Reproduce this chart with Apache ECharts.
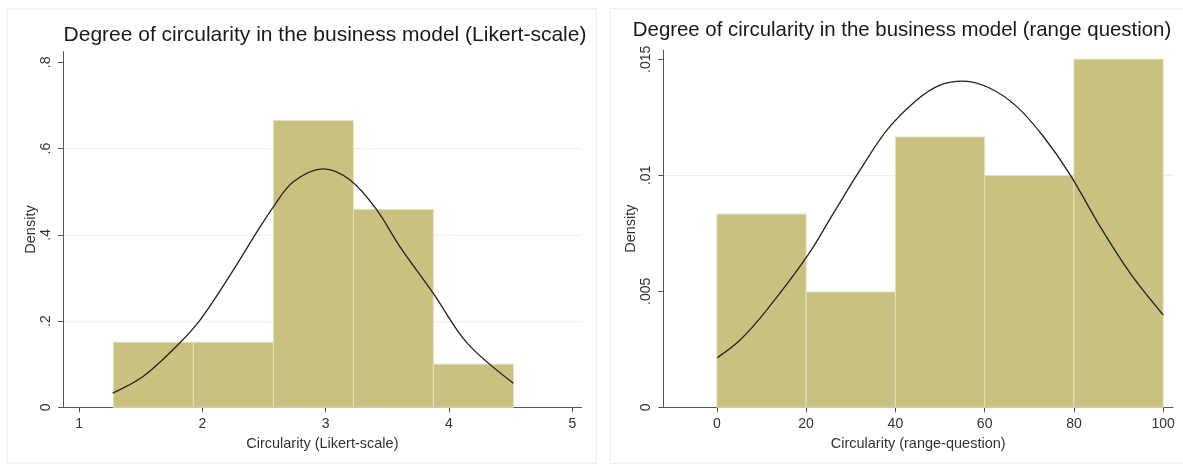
<!DOCTYPE html>
<html>
<head>
<meta charset="utf-8">
<script src="https://cdn.jsdelivr.net/npm/echarts@6/dist/echarts.min.js"></script>
<style>
  html, body { margin: 0; padding: 0; background: #ffffff; }
  #chart { width: 1183px; height: 466px; }
</style>
</head>
<body>
<div id="chart"></div>
<script>
// ---- Left panel: Likert-scale ----
var likertTitle = 'Degree of circularity in the business model (Likert-scale)';
var likertXName = 'Circularity (Likert-scale)';
var likertBinStart = [1.278, 1.927, 2.576, 3.225, 3.873];
var likertBinEnd   = [1.927, 2.576, 3.225, 3.873, 4.522];
var likertDensity  = [0.151, 0.151, 0.665, 0.459, 0.100];
var likertCurveX = [1.273, 1.522, 1.792, 1.981, 2.251, 2.441, 2.576, 2.738, 2.981, 3.198, 3.414, 3.603, 3.873, 4.144, 4.522];
var likertCurveY = [0.033, 0.072, 0.142, 0.202, 0.318, 0.406, 0.465, 0.523, 0.553, 0.527, 0.458, 0.372, 0.264, 0.150, 0.056];
var likertXTicks = [1, 2, 3, 4, 5];
var likertYTicks = [0, 0.2, 0.4, 0.6, 0.8];
var likertGrid   = [0.2, 0.4, 0.6];

// ---- Right panel: range question ----
var rangeTitle = 'Degree of circularity in the business model (range question)';
var rangeXName = 'Circularity (range-question)';
var rangeBinStart = [0, 20, 40, 60, 80];
var rangeBinEnd   = [20, 40, 60, 80, 100];
var rangeDensity  = [0.00833, 0.00497, 0.01165, 0.00999, 0.01500];
var rangeCurveX = [0.1, 5.2, 11.2, 20.2, 26.1, 32.1, 38.1, 44.8, 50.0, 55.3, 61.2, 67.2, 73.2, 79.2, 85.9, 92.6, 100];
var rangeCurveY = [0.00214, 0.0029, 0.0042, 0.0065, 0.00836, 0.01023, 0.01195, 0.01325, 0.01389, 0.01406, 0.01375, 0.01296, 0.01166, 0.01001, 0.00778, 0.00578, 0.00398];
var rangeXTicks = [0, 20, 40, 60, 80, 100];
var rangeYTicks = [0, 0.005, 0.01, 0.015];
var rangeGrid   = [0.005, 0.01, 0.015];

var FONT = "'Liberation Sans', Arial, sans-serif";
var BAR_FILL = '#c9c180';
var BAR_EDGE = '#e4e0bd';

function zip(a, b) { return a.map(function (v, i) { return [v, b[i]]; }); }
function bins(s, e, d) { return s.map(function (v, i) { return [v, e[i], d[i]]; }); }
function stripZero(v) { return String(+v.toFixed(4)).replace(/^0\./, '.'); }

function renderBin(params, api) {
  var p0 = api.coord([api.value(0), api.value(2)]);
  var p1 = api.coord([api.value(1), 0]);
  return {
    type: 'rect',
    shape: { x: p0[0], y: p0[1], width: p1[0] - p0[0], height: p1[1] - p0[1] },
    style: { fill: BAR_FILL, stroke: BAR_EDGE, lineWidth: 1 }
  };
}

function xAxis(idx, min, max, ticks, name) {
  return {
    type: 'value', gridIndex: idx, min: min, max: max,
    name: name, nameLocation: 'middle', nameGap: 29,
    nameTextStyle: { fontFamily: FONT, fontSize: 14.5, color: '#333' },
    axisLine: { show: true, onZero: false, lineStyle: { color: '#555', width: 1 } },
    axisTick: { show: true, customValues: ticks, length: 5, lineStyle: { color: '#555' } },
    axisLabel: { customValues: ticks, margin: 10, fontFamily: FONT, fontSize: 14, color: '#333' },
    splitLine: { show: false }
  };
}
function yAxis(idx, min, max, ticks) {
  return {
    type: 'value', gridIndex: idx, min: min, max: max,
    name: 'Density', nameLocation: 'middle', nameGap: 22, nameRotate: 90,
    nameTextStyle: { fontFamily: FONT, fontSize: 14.5, color: '#333' },
    axisLine: { show: true, onZero: false, lineStyle: { color: '#555', width: 1 } },
    axisTick: { show: true, customValues: ticks, length: 5, lineStyle: { color: '#555' } },
    axisLabel: { customValues: ticks, rotate: 90, margin: 10, fontFamily: FONT, fontSize: 14, color: '#333',
                 formatter: stripZero },
    splitLine: { show: false }
  };
}
function gridLines(vals) {
  return {
    silent: true, symbol: 'none', label: { show: false }, z: 0,
    lineStyle: { color: '#eeeeee', width: 1, type: 'solid' },
    emphasis: { disabled: true },
    data: vals.map(function (v) { return { yAxis: v }; })
  };
}

var chart = echarts.init(document.getElementById('chart'), null, { renderer: 'canvas' });
chart.setOption({
  animation: false,
  backgroundColor: '#ffffff',
  graphic: [
    { type: 'rect', shape: { x: 7.5, y: 8.5, width: 589, height: 455 }, style: { fill: 'none', stroke: '#efefef', lineWidth: 1 }, z: -10 },
    { type: 'rect', shape: { x: 610.5, y: 8.5, width: 580, height: 455 }, style: { fill: 'none', stroke: '#efefef', lineWidth: 1 }, z: -10 }
  ],
  title: [
    { text: likertTitle, left: 325, top: 25, textAlign: 'center', padding: 0,
      textStyle: { fontFamily: FONT, fontSize: 21, fontWeight: 'normal', color: '#1a1a1a' } },
    { text: rangeTitle, left: 902, top: 20, textAlign: 'center', padding: 0,
      textStyle: { fontFamily: FONT, fontSize: 20.4, fontWeight: 'normal', color: '#1a1a1a' } }
  ],
  grid: [
    { left: 63, top: 51.7, width: 518.7, height: 355.6 },
    { left: 663.3, top: 50, width: 509.7, height: 357.3 }
  ],
  xAxis: [
    xAxis(0, 0.87, 5.076, likertXTicks, likertXName),
    xAxis(1, -12, 102.2, rangeXTicks, rangeXName)
  ],
  yAxis: [
    yAxis(0, 0, 0.8246, likertYTicks),
    yAxis(1, 0, 0.0154, rangeYTicks)
  ],
  series: [
    { type: 'custom', name: 'likert', xAxisIndex: 0, yAxisIndex: 0, renderItem: renderBin,
      encode: { x: [0, 1], y: 2 }, data: bins(likertBinStart, likertBinEnd, likertDensity), z: 2,
      markLine: gridLines(likertGrid) },
    { type: 'line', name: 'likertNormal', xAxisIndex: 0, yAxisIndex: 0, data: zip(likertCurveX, likertCurveY),
      smooth: 0.35, showSymbol: false, symbol: 'none', lineStyle: { color: '#222', width: 1.3 }, z: 5 },
    { type: 'custom', name: 'range', xAxisIndex: 1, yAxisIndex: 1, renderItem: renderBin,
      encode: { x: [0, 1], y: 2 }, data: bins(rangeBinStart, rangeBinEnd, rangeDensity), z: 2,
      markLine: gridLines(rangeGrid) },
    { type: 'line', name: 'rangeNormal', xAxisIndex: 1, yAxisIndex: 1, data: zip(rangeCurveX, rangeCurveY),
      smooth: 0.35, showSymbol: false, symbol: 'none', lineStyle: { color: '#222', width: 1.3 }, z: 5 }
  ]
});
</script>
</body>
</html>
